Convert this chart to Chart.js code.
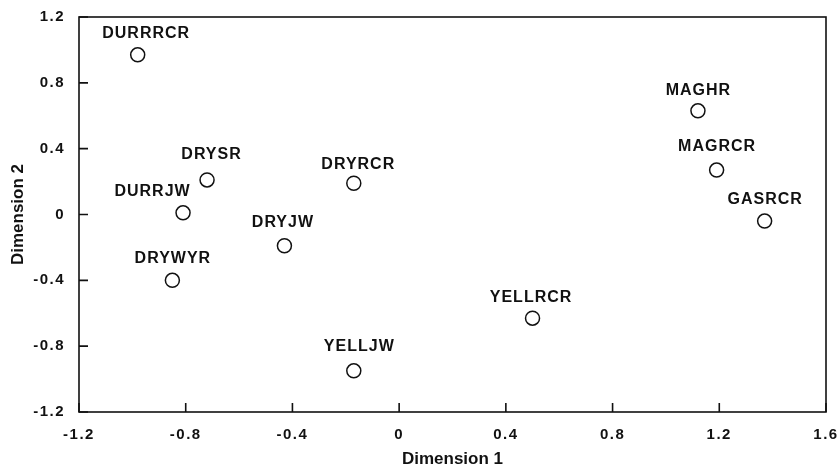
<!DOCTYPE html>
<html>
<head>
<meta charset="utf-8">
<script src="https://cdn.jsdelivr.net/npm/chart.js@4.4.1/dist/chart.umd.min.js"></script>
<style>
  html, body { margin: 0; background: #fff; }
  #wrap { width: 839px; height: 470px; }
</style>
</head>
<body>
<div id="wrap"><canvas id="mdsChart"></canvas></div>
<script>
// MDS configuration of sites
const sites = ['DURRRCR', 'DRYSR', 'DURRJW', 'DRYWYR', 'DRYJW', 'DRYRCR', 'YELLJW', 'YELLRCR', 'MAGHR', 'MAGRCR', 'GASRCR'];
const dim1 = [-0.98, -0.72, -0.81, -0.85, -0.43, -0.17, -0.17, 0.50, 1.12, 1.19, 1.37];
const dim2 = [0.97, 0.21, 0.01, -0.40, -0.19, 0.19, -0.95, -0.63, 0.63, 0.27, -0.04];

const FONT = '"Liberation Sans", Arial, Helvetica, sans-serif';

// small nudges so the names sit where they do in the figure
const labelNudge = {
  DURRRCR: [8, -21], DRYSR: [4, -25], DURRJW: [-31, -21], DRYWYR: [0, -22],
  DRYJW: [-2, -23], DRYRCR: [4, -19], YELLJW: [5, -24], YELLRCR: [-2, -21],
  MAGHR: [0, -20], MAGRCR: [0, -23], GASRCR: [0, -21]
};

const points = dim1.map((x, i) => ({ x: x, y: dim2[i] }));

const fmt = v => {
  const r = Math.round(v * 10) / 10;
  return r === 0 ? '0' : r.toFixed(1);
};

// box, inward tick marks and spaced tick labels
const framePlugin = {
  id: 'frame',
  beforeDraw(chart) {
    Object.values(chart.scales).forEach(s => {
      if (s._spaced) return;
      const orig = s.drawLabels;
      s.drawLabels = function(area) {
        this.ctx.letterSpacing = '1.5px';
        orig.call(this, area);
        this.ctx.letterSpacing = '0px';
      };
      s._spaced = true;
    });
  },
  beforeDatasetsDraw(chart) {
    const { ctx, chartArea: a, scales: { x, y } } = chart;
    ctx.save();
    ctx.strokeStyle = '#111';
    ctx.lineWidth = 1.6;
    ctx.strokeRect(a.left, a.top, a.right - a.left, a.bottom - a.top);
    ctx.beginPath();
    x.ticks.forEach((t, i) => {
      const px = x.getPixelForTick(i);
      ctx.moveTo(px, a.bottom);
      ctx.lineTo(px, a.bottom - 9);
    });
    y.ticks.forEach((t, i) => {
      const py = y.getPixelForTick(i);
      ctx.moveTo(a.left, py);
      ctx.lineTo(a.left + 9, py);
    });
    ctx.stroke();
    ctx.restore();
  }
};

const namePlugin = {
  id: 'names',
  afterDatasetsDraw(chart) {
    const ctx = chart.ctx;
    const meta = chart.getDatasetMeta(0);
    ctx.save();
    ctx.font = 'bold 16px ' + FONT;
    ctx.letterSpacing = '1px';
    ctx.fillStyle = '#111';
    ctx.textAlign = 'center';
    ctx.textBaseline = 'middle';
    meta.data.forEach((pt, i) => {
      const n = labelNudge[sites[i]] || [0, -22];
      ctx.fillText(sites[i], pt.x + n[0] + 0.5, pt.y + n[1]);
    });
    ctx.restore();
  }
};

new Chart(document.getElementById('mdsChart'), {
  type: 'scatter',
  data: {
    datasets: [{
      label: 'Sites',
      data: points,
      pointStyle: 'circle',
      pointRadius: 7,
      pointHoverRadius: 7,
      pointBorderWidth: 1.5,
      pointBackgroundColor: '#fff',
      pointBorderColor: '#111'
    }]
  },
  options: {
    responsive: true,
    maintainAspectRatio: false,
    animation: false,
    layout: { padding: { top: 17, right: 13, left: 0, bottom: 0 } },
    plugins: {
      legend: { display: false },
      tooltip: { enabled: false }
    },
    scales: {
      x: {
        type: 'linear',
        min: -1.2,
        max: 1.6,
        afterFit(scale) {
          scale.height = 58;
          scale.paddingLeft = 0;
          scale.paddingRight = 0;
        },
        grid: { display: false, drawTicks: false },
        border: { display: false },
        ticks: {
          stepSize: 0.4,
          padding: 14,
          color: '#111',
          font: { family: FONT, size: 15, weight: 'bold' },
          callback: v => fmt(v)
        },
        title: {
          display: true,
          text: 'Dimension 1',
          color: '#111',
          padding: { top: 0, bottom: 0 },
          font: { family: FONT, size: 17, weight: 'bold' }
        }
      },
      y: {
        type: 'linear',
        min: -1.2,
        max: 1.2,
        afterFit(scale) {
          scale.width = 79;
          scale.paddingTop = 0;
          scale.paddingBottom = 0;
        },
        grid: { display: false, drawTicks: false },
        border: { display: false },
        ticks: {
          stepSize: 0.4,
          padding: 14,
          color: '#111',
          font: { family: FONT, size: 15, weight: 'bold' },
          callback: v => fmt(v)
        },
        title: {
          display: true,
          text: 'Dimension 2',
          color: '#111',
          padding: { top: 8, bottom: 0 },
          font: { family: FONT, size: 17, weight: 'bold' }
        }
      }
    }
  },
  plugins: [framePlugin, namePlugin]
});
</script>
</body>
</html>
